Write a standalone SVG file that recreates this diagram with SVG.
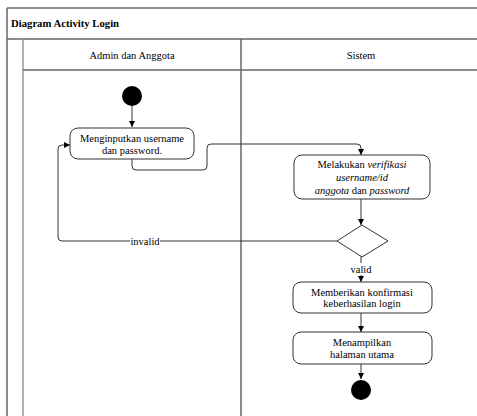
<svg xmlns="http://www.w3.org/2000/svg" width="477" height="416" viewBox="0 0 477 416" font-family="'Liberation Serif', 'DejaVu Serif', serif">
  <style>
    text { font-family: 'Liberation Serif', 'DejaVu Serif', serif; font-size: 10.5px; fill: #000; }
    .title { font-weight: bold; font-size: 10.7px; }
    .mid { text-anchor: middle; }
    .frame { stroke: #666; stroke-width: 1.5; fill: none; }
    .lane { stroke: #999; stroke-width: 1.5; fill: none; }
    .act { fill: #fff; stroke: #333; stroke-width: 1; }
    .edge { fill: none; stroke: #333; stroke-width: 1; }
    .it { font-style: italic; }
  </style>
  <defs>
    <marker id="arrow" viewBox="0 0 6 6" refX="6" refY="3" markerWidth="6" markerHeight="6" orient="auto" markerUnits="userSpaceOnUse">
      <path d="M0,0 L6,3 L0,6 z" fill="#000"/>
    </marker>
  </defs>
  <rect width="477" height="416" fill="#fff"/>

  <!-- frame and swimlanes -->
  <g id="frame">
    <line class="frame" x1="7" y1="8" x2="477" y2="8"/>
    <line class="frame" x1="7" y1="8" x2="7" y2="416"/>
    <line class="frame" x1="7" y1="39" x2="477" y2="39"/>
    <line class="lane" x1="23" y1="39" x2="23" y2="416"/>
    <line class="frame" x1="23" y1="70" x2="477" y2="70"/>
    <line class="frame" x1="241" y1="39" x2="241" y2="416"/>
    <text class="title" x="11" y="27">Diagram Activity Login</text>
    <text class="mid" x="132" y="59">Admin dan Anggota</text>
    <text class="mid" x="361" y="59">Sistem</text>
  </g>

  <!-- connectors -->
  <g id="connectors">
    <line class="edge" x1="132" y1="106" x2="132" y2="127" marker-end="url(#arrow)"/>
    <path class="edge" d="M132,159 V166 Q132,170 136,170 H203 Q207,170 207,166 V148 Q207,144 211,144 H357 Q361,144 361,148 V155" marker-end="url(#arrow)"/>
    <line class="edge" x1="361" y1="199" x2="361" y2="225" marker-end="url(#arrow)"/>
    <path class="edge" d="M337,241 H62 Q58,241 58,237 V149 Q58,145 62,145 H70" marker-end="url(#arrow)"/>
    <line class="edge" x1="361" y1="257" x2="361" y2="282" marker-end="url(#arrow)"/>
    <line class="edge" x1="361" y1="313" x2="361" y2="332" marker-end="url(#arrow)"/>
    <line class="edge" x1="361" y1="364" x2="361" y2="379" marker-end="url(#arrow)"/>
    <rect x="130" y="234" width="30" height="13" fill="#fff"/>
    <text class="mid" x="145" y="245">invalid</text>
    <rect x="349" y="263" width="24" height="12" fill="#fff"/>
    <text class="mid" x="361" y="273">valid</text>
  </g>

  <g id="start">
    <circle cx="132" cy="96" r="10" fill="#000"/>
  </g>

  <g id="input">
    <rect class="act" x="70" y="128" width="124" height="31" rx="8"/>
    <text class="mid" x="132" y="142">Menginputkan username</text>
    <text class="mid" x="132" y="154">dan password.</text>
  </g>

  <g id="verify">
    <rect class="act" x="294" y="155" width="136" height="44" rx="8"/>
    <text class="mid" x="362" y="168">Melakukan <tspan class="it">verifikasi</tspan></text>
    <text class="mid it" x="362" y="181">username/id</text>
    <text class="mid" x="362" y="194"><tspan class="it">anggota</tspan> dan <tspan class="it">password</tspan></text>
  </g>

  <g id="decision">
    <polygon class="act" points="362,225 388,241 362,257 337,241"/>
  </g>

  <g id="confirm">
    <rect class="act" x="293" y="282" width="139" height="31" rx="8"/>
    <text class="mid" x="362" y="296">Memberikan konfirmasi</text>
    <text class="mid" x="362" y="307">keberhasilan login</text>
  </g>

  <g id="home">
    <rect class="act" x="293" y="332" width="139" height="32" rx="8"/>
    <text class="mid" x="362" y="346">Menampilkan</text>
    <text class="mid" x="362" y="358">halaman utama</text>
  </g>

  <g id="end">
    <circle cx="361" cy="390" r="10" fill="#000"/>
  </g>
</svg>
